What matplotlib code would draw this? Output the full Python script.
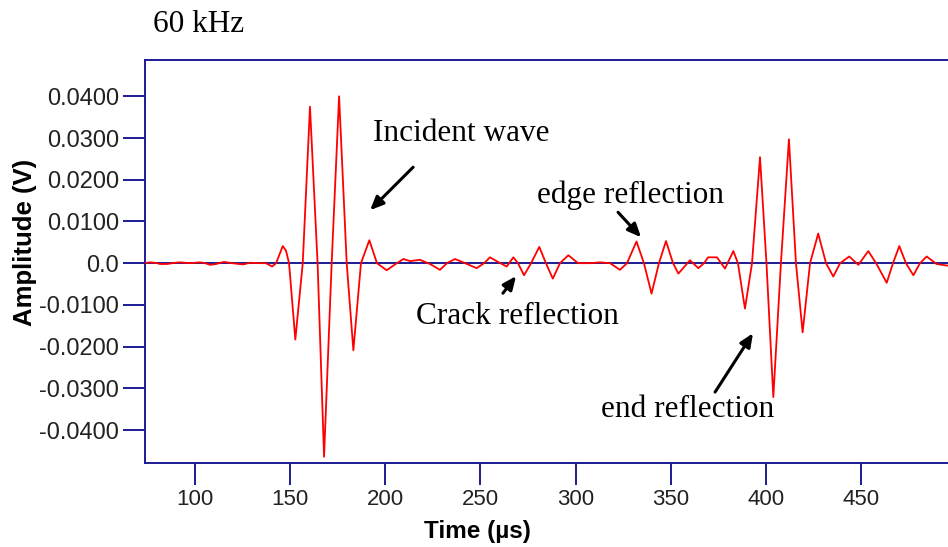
import matplotlib

matplotlib.use("Agg")
import matplotlib.pyplot as plt

# waveform: time (us) and amplitude (V)
time_us = [
    73.7, 76.4, 80.0, 81.6, 85.3, 89.5, 92.1, 97.4, 102.6, 105.3, 107.9, 111.0,
    115.2, 119.4, 125.2, 128.9, 134.2, 137.3, 140.5,
    142.6, 146.1, 147.8, 149.4, 152.7, 156.6, 160.4, 164.4, 167.8, 171.8, 175.7,
    179.7, 183.2, 187.2, 191.6, 195.6, 200.7, 205.1, 209.5, 213.0, 218.2, 223.5,
    228.7, 232.4, 236.6, 241.9, 248.0, 251.9, 255.0, 259.2, 263.8, 267.3, 269.7,
    272.9, 276.6, 280.9, 284.4, 288.0, 291.8, 296.2, 301.3, 307.6, 312.8, 318.1,
    323.3, 327.0, 332.0, 335.9, 339.9, 343.8, 347.5, 351.2, 354.0, 360.1, 364.5,
    367.5, 369.6, 374.3, 378.5, 382.9, 385.3, 389.0, 392.7, 396.9, 400.3, 403.9,
    407.9, 412.1, 415.8, 419.3, 423.2, 427.5, 431.6, 435.4, 439.0, 443.8, 448.6,
    453.8, 457.9, 463.5, 466.8, 470.1, 473.6, 477.5, 481.0, 484.5, 489.7, 495.7,
]
amplitude_v = [
    0.0, 0.0002, 0.0, -0.0002, -0.0002, 0.0001, 0.0002, 0.0, 0.0002, 0.0, -0.0004,
    -0.0002, 0.0003, 0.0, -0.0003, 0.0001, 0.0, 0.0, -0.0008,
    0.0, 0.0041, 0.0030, 0.0, -0.0183, 0.0, 0.0375, 0.0, -0.0464, 0.0, 0.0400,
    0.0, -0.0209, 0.0, 0.0055, 0.0, -0.0017, -0.0003, 0.0010, 0.0005, 0.0008,
    -0.0002, -0.0016, 0.0, 0.0010, 0.0, -0.0012, 0.0, 0.0014, 0.0003, -0.0008,
    0.0014, 0.0, -0.0029, 0.0, 0.0039, 0.0, -0.0037, 0.0, 0.0019, 0.0, 0.0,
    0.0002, 0.0, -0.0016, 0.0, 0.0052, 0.0, -0.0073, 0.0, 0.0053, 0.0, -0.0025,
    0.0007, -0.0012, 0.0, 0.0014, 0.0014, -0.0013, 0.0029, 0.0, -0.0109, 0.0,
    0.0254, 0.0, -0.0321, 0.0, 0.0297, 0.0, -0.0166, 0.0, 0.0071, 0.0, -0.0032,
    0.0, 0.0016, -0.0004, 0.0029, 0.0, -0.0047, 0.0, 0.0041, 0.0, -0.0029, 0.0,
    0.0016, -0.0002, -0.0006,
]

x_ticks = [100, 150, 200, 250, 300, 350, 400, 450]
y_ticks = [0.04, 0.03, 0.02, 0.01, 0.0, -0.01, -0.02, -0.03, -0.04]
y_tick_labels = ["0.0400", "0.0300", "0.0200", "0.0100", "0.0",
                 "-0.0100", "-0.0200", "-0.0300", "-0.0400"]

# (label, text pos, arrow tail, arrow head) in data units
notes = [
    ("Incident wave", (193.5, 0.0312), (214.6, 0.0230), (192.0, 0.0127)),
    ("edge reflection", (279.7, 0.0163), (322.3, 0.0122), (334.4, 0.0062)),
    ("Crack reflection", (216.1, -0.0127), (261.8, -0.0072), (268.7, -0.0031)),
    ("end reflection", (313.3, -0.0350), (373.3, -0.0309), (393.2, -0.0168)),
]

NAVY = "#1c1c94"
SERIF = ["Liberation Serif", "DejaVu Serif"]
SANS = ["Liberation Sans", "DejaVu Sans"]

fig = plt.figure(figsize=(9.48, 5.47), dpi=100)
ax = fig.add_axes([145 / 948, 84 / 547, 803 / 948, 403 / 547])

ax.plot(time_us, amplitude_v, color="#ff0000", linewidth=1.3, zorder=3)
ax.axhline(0.0, color=NAVY, linewidth=1.4, zorder=2)

ax.set_xlim(73.7, 495.7)
ax.set_ylim(-0.0479, 0.0487)

ax.set_xticks(x_ticks)
ax.set_xticklabels([str(v) for v in x_ticks], family=SANS, fontsize=16, color="#222222")
ax.set_yticks(y_ticks)
ax.set_yticklabels(y_tick_labels, family=SANS, fontsize=17, color="#222222")
ax.tick_params(axis="both", direction="out", length=15.5, width=1.4, color=NAVY, pad=3)

for side in ("left", "top", "bottom"):
    ax.spines[side].set_color(NAVY)
    ax.spines[side].set_linewidth(1.4)
ax.spines["right"].set_visible(False)

ax.set_xlabel("Time (µs)", family=SANS, fontsize=17.5, fontweight="bold")
ax.xaxis.set_label_coords(0.414, -0.142)
ax.set_ylabel("Amplitude (V)", family=SANS, fontsize=18.5, fontweight="bold")
ax.yaxis.set_label_coords(-0.1345, 0.548)

for label, (tx, ty), tail, head in notes:
    ax.text(tx, ty, label, family=SERIF, fontsize=22.5, ha="left", va="center")
    ax.annotate("", xy=head, xytext=tail,
                arrowprops=dict(arrowstyle="-|>,head_length=0.8,head_width=0.35",
                                color="black", linewidth=2.2, shrinkA=0, shrinkB=0))

fig.text(153 / 948, 1 - 25 / 547, "60 kHz", family=SERIF, fontsize=22.5,
         ha="left", va="center")

fig.savefig("out.png", dpi=100)
